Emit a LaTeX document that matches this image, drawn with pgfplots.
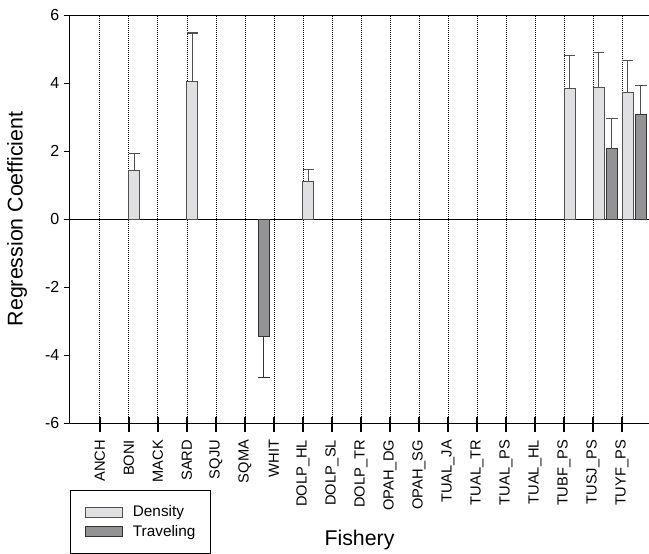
\documentclass[border=0pt]{standalone}
\usepackage{pgfplots}
\pgfplotsset{compat=1.18}
\usepackage{fontspec}
\setmainfont{Liberation Sans}
\definecolor{dens}{HTML}{E0E0E2}
\definecolor{trav}{HTML}{939396}
\definecolor{edge}{HTML}{505050}
\begin{document}
\begin{tikzpicture}
\begin{axis}[
 scale only axis, width=434.25pt, height=306pt,
 xmin=-1.03, xmax=18.93, ymin=-6, ymax=6,
 axis lines*=left,
 axis line style={black, line width=0.75pt},
 tick align=outside,
 major tick length=4.5pt,
 ytick={-6,-4,-2,0,2,4,6},
 yticklabels={-6,-4,-2,0,2,4,6},
 yticklabel style={font=\fontsize{12}{12}\selectfont},
 ytick style={black, line width=0.75pt},
 xtick={0,...,18},
 xticklabels={ANCH,BONI,MACK,SARD,SQJU,SQMA,WHIT,DOLP\_HL,DOLP\_SL,DOLP\_TR,OPAH\_DG,OPAH\_SG,TUAL\_JA,TUAL\_TR,TUAL\_PS,TUAL\_HL,TUBF\_PS,TUSJ\_PS,TUYF\_PS},
 xticklabel style={rotate=90, anchor=east, font=\fontsize{11}{11}\selectfont, inner sep=0pt},
 xticklabel shift=8pt,
 xtick style={black, line width=1.5pt, /pgfplots/major tick length=11.25pt, yshift=4.5pt},
 xmajorgrids,
 x grid style={black, line width=0.6pt, dash pattern=on 0.75pt off 0.75pt},
 extra y ticks={0,6}, extra y tick labels={},
 extra y tick style={ymajorgrids=true, y grid style={black, line width=0.75pt, solid}},
 xlabel={Fishery},
 xlabel style={at={(axis description cs:0.5,-0.299)}, anchor=base, font=\fontsize{16}{16}\selectfont},
 ylabel={Regression Coefficient},
 ylabel style={at={(axis description cs:-0.0915,0.5)}, anchor=center, font=\fontsize{16}{16}\selectfont},
 legend style={at={(0,-0.1642)}, anchor=north west, draw=black, line width=0.75pt,
   inner xsep=11pt, inner ysep=11.5pt, row sep=4.5pt, column sep=7.3pt,
   font=\fontsize{11.5}{11.5}\selectfont, nodes={inner sep=0pt}},
 legend cell align=left,
 legend image code/.code={\draw[#1] (0pt,-4pt) rectangle (27.75pt,4pt);},
]
\addplot[ybar, bar width=0.38, bar shift=0pt, fill=dens, draw=edge, line width=0.75pt,
  error bars/.cd, y dir=plus, y explicit,
  error bar style={edge, line width=0.9pt},
  error mark options={rotate=90, edge, line width=0.9pt, mark size=4.4pt}]
  coordinates {(1.19,1.42) +- (0,0.51) (3.19,4.04) +- (0,1.43) (7.19,1.10) +- (0,0.35)
               (16.19,3.85) +- (0,0.97) (17.19,3.88) +- (0,1.02) (18.19,3.73) +- (0,0.94)};
\addlegendentry{Density}
\addplot[ybar, bar width=0.38, bar shift=0pt, fill=trav, draw=black!80, line width=0.75pt,
  error bars/.cd, y dir=plus, y explicit,
  error bar style={edge, line width=0.9pt},
  error mark options={rotate=90, edge, line width=0.9pt, mark size=4.4pt}]
  coordinates {(17.65,2.06) +- (0,0.89) (18.65,3.08) +- (0,0.84)};
\addlegendentry{Traveling}
\addplot[ybar, bar width=0.38, bar shift=0pt, fill=trav, draw=black!80, line width=0.75pt, forget plot,
  error bars/.cd, y dir=minus, y explicit,
  error bar style={black!80, line width=0.9pt},
  error mark options={rotate=90, black!80, line width=0.9pt, mark size=4.4pt}]
  coordinates {(5.65,-3.47) +- (0,1.20)};
\end{axis}
\pgfresetboundingbox
\path[use as bounding box] ([xshift=-52.5pt,yshift=-97.5pt]current axis.south west) rectangle ([yshift=11.25pt]current axis.north east);
\end{tikzpicture}
\end{document}
